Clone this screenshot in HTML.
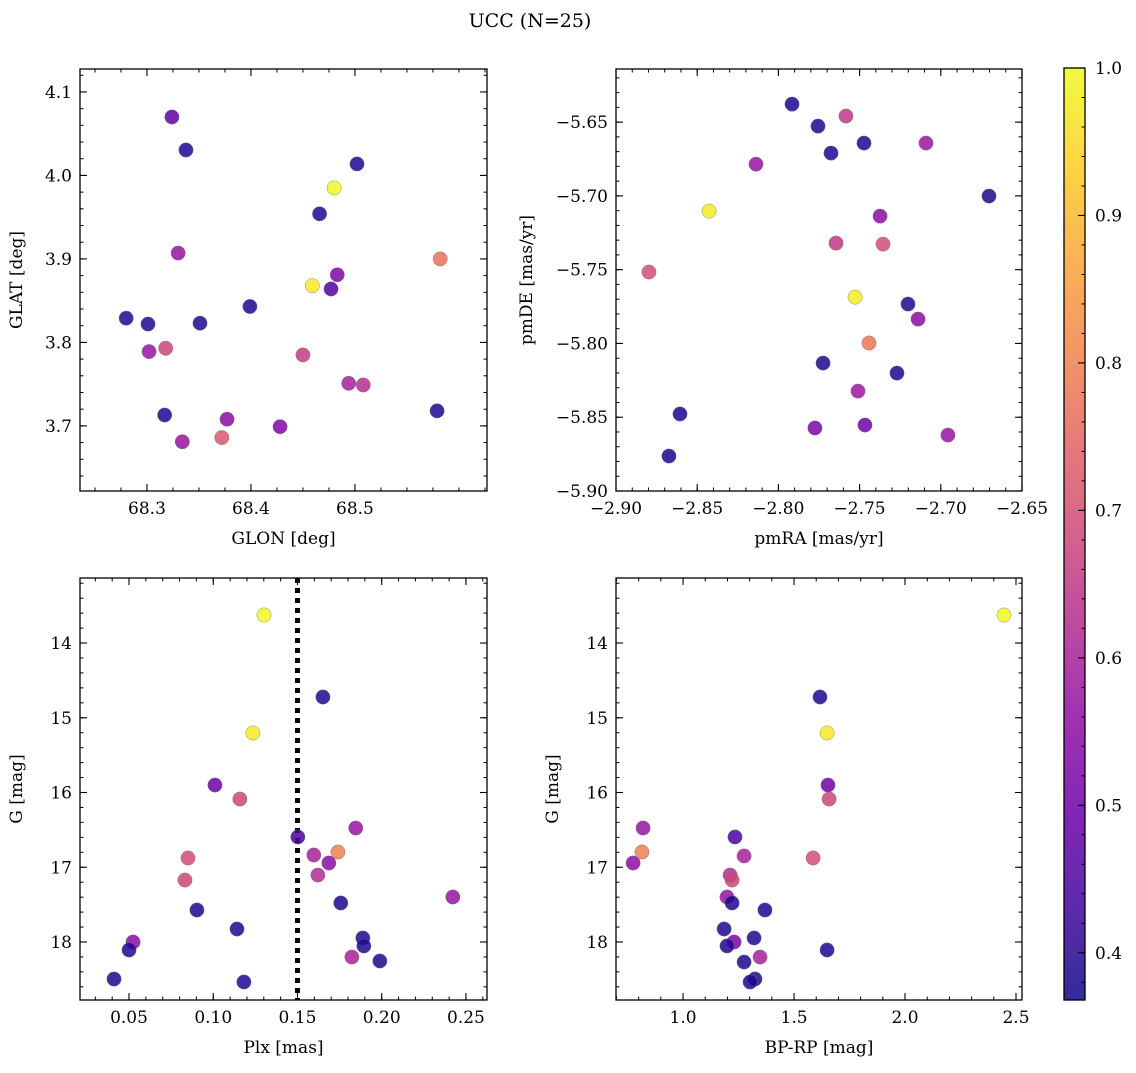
<!DOCTYPE html>
<html><head><meta charset="utf-8"><style>
html,body{margin:0;padding:0;background:#fff;}
svg text{font-family:"DejaVu Serif","Liberation Serif",serif;fill:#000;}
</style></head><body>
<svg id="fig" width="1136" height="1068" viewBox="0 0 1136 1068" xmlns="http://www.w3.org/2000/svg">
<defs>
<linearGradient id="cbgrad" x1="0" y1="1" x2="0" y2="0"></linearGradient>
</defs>
<text x="530" y="27" font-size="19" text-anchor="middle">UCC (N=25)</text>
</svg>
<script>
// Panel 1: GLON vs GLAT
const glon = [68.324,68.3375,68.502,68.480,68.466,68.330,68.582,68.483,68.459,68.477,68.280,68.301,68.351,68.399,68.302,68.318,68.450,68.494,68.508,68.317,68.377,68.334,68.372,68.428,68.579];
const glat = [4.070,4.0305,4.0138,3.985,3.954,3.907,3.900,3.881,3.868,3.864,3.829,3.822,3.823,3.843,3.789,3.793,3.785,3.751,3.749,3.713,3.708,3.681,3.686,3.699,3.718];
const prob1 = [0.48,0.39,0.39,1.0,0.39,0.57,0.77,0.53,0.98,0.46,0.39,0.39,0.39,0.39,0.57,0.68,0.66,0.6,0.63,0.39,0.55,0.57,0.72,0.53,0.39];
// Panel 2: pmRA vs pmDE
const pmra = [-2.7916,-2.7584,-2.7756,-2.7676,-2.7473,-2.7091,-2.8138,-2.8427,-2.6703,-2.7374,-2.7645,-2.7356,-2.8797,-2.7528,-2.7202,-2.7140,-2.7442,-2.7725,-2.7270,-2.7510,-2.8606,-2.7467,-2.7775,-2.6956,-2.8674];
const pmde = [-5.6378,-5.6459,-5.6527,-5.6710,-5.6642,-5.6642,-5.6785,-5.7103,-5.7001,-5.7137,-5.7320,-5.7327,-5.7516,-5.7686,-5.7733,-5.7835,-5.7997,-5.8133,-5.8201,-5.8323,-5.8478,-5.8553,-5.8573,-5.8621,-5.8763];
const prob2 = [0.39,0.65,0.39,0.39,0.39,0.58,0.57,0.98,0.39,0.55,0.65,0.7,0.7,0.98,0.39,0.55,0.78,0.39,0.39,0.58,0.39,0.5,0.52,0.57,0.38];
// Panel 3: Plx vs G
const plx = [0.1301,0.1651,0.1235,0.1010,0.1158,0.1846,0.1502,0.1740,0.0850,0.1597,0.1686,0.1621,0.0832,0.2422,0.1757,0.0903,0.1141,0.0524,0.0500,0.1888,0.1894,0.1989,0.1823,0.0411,0.1182];
const gmag3 = [13.625,14.722,15.204,15.900,16.087,16.475,16.595,16.796,16.876,16.836,16.943,17.104,17.171,17.398,17.478,17.572,17.826,18.000,18.107,17.946,18.053,18.254,18.201,18.495,18.535];
const prob3 = [1.0,0.39,0.98,0.5,0.68,0.57,0.45,0.8,0.7,0.6,0.55,0.62,0.68,0.57,0.39,0.39,0.39,0.55,0.39,0.39,0.39,0.39,0.6,0.39,0.39];
// Panel 4: BP-RP vs G
const bprp = [2.446,1.617,1.649,1.653,1.658,0.820,1.234,0.815,1.586,1.275,0.775,1.212,1.221,1.198,1.221,1.369,1.185,1.230,1.198,1.320,1.649,1.347,1.275,1.324,1.302];
const gmag4 = [13.625,14.722,15.204,15.900,16.087,16.475,16.595,16.796,16.876,16.849,16.943,17.104,17.171,17.398,17.478,17.572,17.826,18.000,18.053,17.946,18.107,18.201,18.268,18.495,18.535];
const prob4 = [1.0,0.39,0.98,0.5,0.68,0.57,0.45,0.8,0.7,0.6,0.55,0.62,0.68,0.57,0.39,0.39,0.39,0.52,0.39,0.39,0.39,0.6,0.39,0.39,0.39];
const plxCut = [0.15];
const ticks1x = [68.3,68.4,68.5], ticks1y = [3.7,3.8,3.9,4.0,4.1];
const ticks2x = [-2.90,-2.85,-2.80,-2.75,-2.70,-2.65], ticks2y = [-5.90,-5.85,-5.80,-5.75,-5.70,-5.65];
const ticks3x = [0.05,0.10,0.15,0.20,0.25], ticksG = [14,15,16,17,18];
const ticks4x = [1.0,1.5,2.0,2.5];
const cbTicks = [0.4,0.5,0.6,0.7,0.8,0.9,1.0];
const cbMin = 0.368, cbMax = 1.0;

const NS = "http://www.w3.org/2000/svg";
const svg = document.getElementById('fig');
function mk(tag, attrs, parent){const e=document.createElementNS(NS,tag);for(const k in attrs)e.setAttribute(k,attrs[k]);(parent||svg).appendChild(e);return e;}
const plasma = ["#0d0887","#41049d","#6a00a8","#8f0da4","#b12a90","#cc4778","#e16462","#f2844b","#fca636","#fcce25","#f0f921"];
function hex(h){return [1,3,5].map(i=>parseInt(h.substr(i,2),16));}
function cmap(p){let t=(p-cbMin)/(cbMax-cbMin);t=Math.max(0,Math.min(1,t))*10;const i=Math.min(9,Math.floor(t)),f=t-i;const a=hex(plasma[i]),b=hex(plasma[i+1]);return 'rgb('+a.map((v,k)=>Math.round(v+(b[k]-v)*f)).join(',')+')';}
function fmt(v,d){return (v<0?'\u2212':'')+Math.abs(v).toFixed(d);}

function panel(o){
  const g=mk('g',{});
  
  
  const sx=v=>o.x0+(v-o.xmin)/(o.xmax-o.xmin)*(o.x1-o.x0);
  const sy=o.invert? v=>o.y0+(v-o.ymin)/(o.ymax-o.ymin)*(o.y1-o.y0) : v=>o.y1-(v-o.ymin)/(o.ymax-o.ymin)*(o.y1-o.y0);
  const minors=(lo,hi,step)=>{const r=[];for(let v=Math.ceil(lo/step-1e-6)*step;v<=hi+1e-9;v+=step)r.push(v);return r;};
  minors(o.xmin,o.xmax,o.xminor).forEach(v=>{const X=sx(v);
    const t1=mk('line',{x1:X,x2:X,y1:o.y1,y2:o.y1-3.5,stroke:'#000','stroke-width':1},g);
    const t2=mk('line',{x1:X,x2:X,y1:o.y0,y2:o.y0+3.5,stroke:'#000','stroke-width':1},g);});
  minors(Math.min(o.ymin,o.ymax),Math.max(o.ymin,o.ymax),o.yminor).forEach(v=>{const Y=sy(v);
    const t1=mk('line',{x1:o.x0,x2:o.x0+3.5,y1:Y,y2:Y,stroke:'#000','stroke-width':1},g);
    const t2=mk('line',{x1:o.x1,x2:o.x1-3.5,y1:Y,y2:Y,stroke:'#000','stroke-width':1},g);});
  o.xt.forEach(v=>{const X=sx(v);
    const t1=mk('line',{x1:X,x2:X,y1:o.y1,y2:o.y1-7,stroke:'#000','stroke-width':1.1},g);
    const t2=mk('line',{x1:X,x2:X,y1:o.y0,y2:o.y0+7,stroke:'#000','stroke-width':1.1},g);
    const l=mk('text',{x:X,y:o.y1+23,'font-size':17,'text-anchor':'middle'},g);l.textContent=fmt(v,o.xd);
    });
  o.yt.forEach(v=>{const Y=sy(v);
    const t1=mk('line',{x1:o.x0,x2:o.x0+7,y1:Y,y2:Y,stroke:'#000','stroke-width':1.1},g);
    const t2=mk('line',{x1:o.x1,x2:o.x1-7,y1:Y,y2:Y,stroke:'#000','stroke-width':1.1},g);
    const l=mk('text',{x:o.x0-8,y:Y+6,'font-size':17,'text-anchor':'end'},g);l.textContent=fmt(v,o.yd);
    });
  if(o.vline){o.vline.forEach(v=>{const vl=mk('line',{x1:sx(v),x2:sx(v),y1:o.y0,y2:o.y1,stroke:'#000','stroke-width':5,'stroke-dasharray':'5,5'},g);
    });}
  o.xs.forEach((v,i)=>{const c=mk('circle',{cx:sx(v),cy:sy(o.ys[i]),r:7.2,fill:cmap(o.ps[i]),'fill-opacity':0.85,stroke:'#777','stroke-width':0.4},g);
    });
  const fr=mk('rect',{x:o.x0,y:o.y0,width:o.x1-o.x0,height:o.y1-o.y0,fill:'none',stroke:'#000','stroke-width':1.3},g);
  
  const xl=mk('text',{x:(o.x0+o.x1)/2,y:o.y1+53,'font-size':17,'text-anchor':'middle'},g);xl.textContent=o.xlabel;
  
  const yx=o.x0-o.ylo;const yy=(o.y0+o.y1)/2;
  const yl=mk('text',{x:yx,y:yy,'font-size':17,'text-anchor':'middle',transform:'rotate(-90 '+yx+' '+yy+')'},g);yl.textContent=o.ylabel;
  
}
panel({name:'glon-glat-panel',x0:80,x1:487,y0:69,y1:491,xmin:68.2356,xmax:68.627,ymin:3.622,ymax:4.1275,xt:ticks1x,yt:ticks1y,xd:1,yd:1,xminor:0.025,yminor:0.02,xs:glon,ys:glat,ps:prob1,xlabel:'GLON [deg]',ylabel:'GLAT [deg]',ylo:58});
panel({name:'pm-panel',x0:616,x1:1022,y0:69,y1:491,xmin:-2.90,xmax:-2.65,ymin:-5.90,ymax:-5.614,xt:ticks2x,yt:ticks2y,xd:2,yd:2,xminor:0.01,yminor:0.01,xs:pmra,ys:pmde,ps:prob2,xlabel:'pmRA [mas/yr]',ylabel:'pmDE [mas/yr]',ylo:84});
panel({name:'plx-g-panel',x0:80,x1:487,y0:578,y1:1000,xmin:0.0209,xmax:0.2625,ymin:13.13,ymax:18.776,invert:true,xt:ticks3x,yt:ticksG,xd:2,yd:0,xminor:0.01,yminor:0.2,xs:plx,ys:gmag3,ps:prob3,xlabel:'Plx [mas]',ylabel:'G [mag]',ylo:58,vline:plxCut});
panel({name:'cmd-panel',x0:616,x1:1022,y0:578,y1:1000,xmin:0.698,xmax:2.527,ymin:13.13,ymax:18.776,invert:true,xt:ticks4x,yt:ticksG,xd:1,yd:0,xminor:0.1,yminor:0.2,xs:bprp,ys:gmag4,ps:prob4,xlabel:'BP-RP [mag]',ylabel:'G [mag]',ylo:58});

// colorbar
const grad=document.getElementById('cbgrad');
for(let i=0;i<=20;i++){const p=cbMin+(cbMax-cbMin)*i/20;mk('stop',{offset:(i/20),'stop-color':cmap(p),'stop-opacity':0.85},grad);}
const cb={x0:1064,x1:1085,y0:68,y1:1000};
const cy=v=>cb.y1-(v-cbMin)/(cbMax-cbMin)*(cb.y1-cb.y0);
const cbr=mk('rect',{x:cb.x0,y:cb.y0,width:cb.x1-cb.x0,height:cb.y1-cb.y0,fill:'url(#cbgrad)',stroke:'#000','stroke-width':1.3});

for(let v=0.38;v<=1.0001;v+=0.02){const Y=cy(v);const t=mk('line',{x1:cb.x1,x2:cb.x1-3.5,y1:Y,y2:Y,stroke:'#000','stroke-width':1});
  }
cbTicks.forEach(v=>{const Y=cy(v);const t=mk('line',{x1:cb.x1,x2:cb.x1-7,y1:Y,y2:Y,stroke:'#000','stroke-width':1.1});
  
  const l=mk('text',{x:cb.x1+10,y:Y+6,'font-size':17},svg);l.textContent=v.toFixed(1);
  });
</script>
</body></html>
